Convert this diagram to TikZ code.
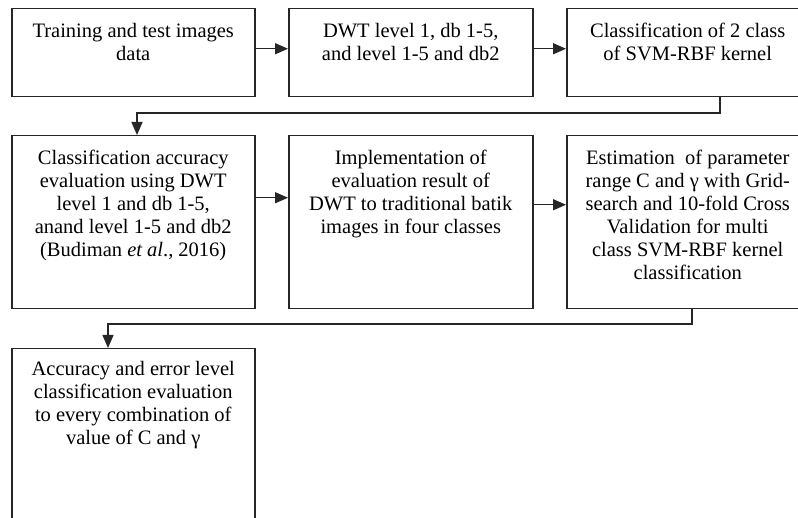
\documentclass[tikz,border=0pt]{standalone}
\usepackage{fontspec}
\setmainfont{Liberation Serif}
\usetikzlibrary{arrows.meta}
\tikzset{
 stepbox/.style={draw=black!85, line width=1.5pt, inner sep=0pt, anchor=north west},
 arr/.style={draw=black!85, line width=1.5pt, -{Triangle[length=13pt,width=11pt]}},
}
\newcommand{\boxtxt}[4]{\parbox[c][#2][t]{#1}{\centering\fontsize{20.5}{23}\selectfont\vspace*{#3}\strut#4\par}}
\begin{document}
\begin{tikzpicture}[x=1pt,y=-1pt]
\useasboundingbox (0,0) rectangle (798,518);
\clip (0,0) rectangle (798,518);
\node[stepbox] (b1) at (11,8) {\boxtxt{243pt}{88pt}{13pt}{Training and test images\\ data}};
\node[stepbox] (b2) at (288,8) {\boxtxt{244pt}{88pt}{13pt}{DWT level 1, db 1-5,\\ and level 1-5 and db2}};
\node[stepbox] (b3) at (566,8) {\boxtxt{242pt}{88pt}{13pt}{Classification of 2 class\\ of SVM-RBF kernel}};
\node[stepbox] (b4) at (11,135) {\boxtxt{243pt}{173pt}{13pt}{Classification accuracy\\ evaluation using DWT\\ level 1 and db 1-5,\\ anand level 1-5 and db2\\ (Budiman \textit{et al}., 2016)}};
\node[stepbox] (b5) at (288,135) {\boxtxt{244pt}{173pt}{13pt}{Implementation of\\ evaluation result of\\ DWT to traditional batik\\ images in four classes}};
\node[stepbox] (b6) at (566,135) {\boxtxt{242pt}{173pt}{13pt}{Estimation\ \ of parameter\\ range C and γ with Grid-\\ search and 10-fold Cross\\ Validation for multi\\ class SVM-RBF kernel\\ classification}};
\node[stepbox] (b7) at (11,348) {\boxtxt{243pt}{200pt}{11pt}{Accuracy and error level\\ classification evaluation\\ to every combination of\\ value of C and γ}};
\draw[arr] ([yshift=4pt]b1.east) -- ([yshift=4pt]b2.west);
\draw[arr] ([yshift=4pt]b2.east) -- ([yshift=4pt]b3.west);
\draw[arr] ([yshift=24.5pt]b4.east) -- ([yshift=24.5pt]b5.west);
\draw[arr] ([yshift=17.5pt]b5.east) -- ([yshift=17.5pt]b6.west);
\coordinate (e1) at (720,113);
\coordinate (e2) at (137,113);
\draw[arr] (e1 |- b3.south) -- (e1) -- (e2) -- (e2 |- b4.north);
\coordinate (f1) at (692,324);
\coordinate (f2) at (108,324);
\draw[arr] (f1 |- b6.south) -- (f1) -- (f2) -- (f2 |- b7.north);
\end{tikzpicture}
\end{document}
